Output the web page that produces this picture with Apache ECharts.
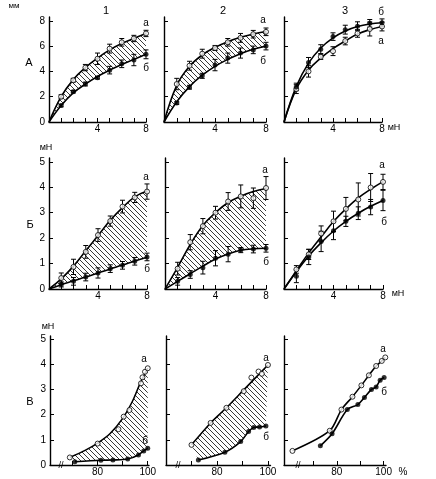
<!DOCTYPE html>
<html>
<head>
<meta charset="utf-8">
<script src="https://cdn.jsdelivr.net/npm/echarts@6/dist/echarts.min.js"></script>
<style>
html, body { margin: 0; padding: 0; background: #fff; }
#chart { width: 436px; height: 479px; }
</style>
</head>
<body>
<div id="chart"></div>
<script>
// x positions of the measured points (rows А and Б), and of the fitted curves
var X8 = [1, 2, 3, 4, 5, 6, 7, 8];
var CX = [0, 1, 2, 3, 4, 5, 6, 7, 8];

// row А, mm
var A1_a = [2.0, 3.3, 4.3, 5.0, 5.8, 6.3, 6.6, 7.0];
var A1_aErr = [0.15, 0.15, 0.25, 0.45, 0.35, 0.3, 0.25, 0.25];
var A1_b = [1.3, 2.4, 3.0, 3.5, 4.1, 4.6, 4.9, 5.35];
var A1_bErr = [0.1, 0.1, 0.15, 0.1, 0.3, 0.3, 0.45, 0.35];
var A1_aFit = [0, 2.0, 3.35, 4.3, 5.05, 5.7, 6.2, 6.6, 7.0];
var A1_bFit = [0, 1.3, 2.3, 3.0, 3.6, 4.1, 4.55, 4.95, 5.35];

var A2_a = [3.0, 4.45, 5.4, 5.85, 6.3, 6.65, 6.94, 7.13];
var A2_aErr = [0.45, 0.35, 0.35, 0.2, 0.3, 0.35, 0.3, 0.3];
var A2_b = [1.5, 2.75, 3.65, 4.5, 5.05, 5.45, 5.7, 6.0];
var A2_bErr = [0.1, 0.15, 0.2, 0.45, 0.4, 0.4, 0.3, 0.3];
var A2_aFit = [0, 2.9, 4.4, 5.3, 5.9, 6.35, 6.7, 6.95, 7.15];
var A2_bFit = [0, 1.6, 2.8, 3.7, 4.4, 4.95, 5.4, 5.75, 6.0];

var A3_a = [2.6, 4.0, 5.15, 5.6, 6.4, 7.0, 7.35, 7.55];
var A3_aErr = [0.35, 0.45, 0.2, 0.35, 0.3, 0.3, 0.55, 0.35];
var A3_b = [2.77, 4.7, 5.76, 6.75, 7.3, 7.57, 7.8, 7.85];
var A3_bErr = [0.3, 0.4, 0.35, 0.3, 0.35, 0.35, 0.3, 0.3];
var A3_aFit = [0, 2.6, 4.1, 5.05, 5.8, 6.4, 6.95, 7.3, 7.55];
var A3_bFit = [0, 2.8, 4.65, 5.85, 6.65, 7.2, 7.55, 7.75, 7.85];

// row Б, mN
var B1_a = [0.43, 0.87, 1.46, 2.12, 2.67, 3.24, 3.6, 3.83];
var B1_aErr = [0.2, 0.3, 0.25, 0.25, 0.2, 0.25, 0.2, 0.3];
var B1_b = [0.18, 0.3, 0.47, 0.63, 0.8, 0.93, 1.09, 1.26];
var B1_bErr = [0.1, 0.15, 0.15, 0.2, 0.15, 0.15, 0.15, 0.15];
var B1_aFit = [0, 0.4, 0.9, 1.5, 2.1, 2.7, 3.2, 3.62, 3.85];
var B1_bFit = [0, 0.17, 0.32, 0.47, 0.63, 0.79, 0.94, 1.1, 1.25];

var B2_a = [0.8, 1.84, 2.47, 3.0, 3.44, 3.64, 3.57, 3.97];
var B2_aErr = [0.25, 0.3, 0.3, 0.25, 0.35, 0.45, 0.4, 0.45];
var B2_b = [0.3, 0.57, 0.84, 1.21, 1.37, 1.53, 1.57, 1.6];
var B2_bErr = [0.15, 0.15, 0.25, 0.3, 0.3, 0.1, 0.15, 0.15];
var B2_aFit = [0, 0.85, 1.75, 2.5, 3.0, 3.4, 3.65, 3.83, 3.95];
var B2_bFit = [0, 0.3, 0.6, 0.9, 1.18, 1.38, 1.52, 1.58, 1.6];

var B3_a = [0.77, 1.36, 2.18, 2.66, 3.15, 3.52, 3.99, 4.21];
var B3_aErr = [0.15, 0.2, 0.3, 0.4, 0.45, 0.65, 0.55, 0.3];
var B3_b = [0.5, 1.26, 1.87, 2.29, 2.66, 2.98, 3.22, 3.48];
var B3_bErr = [0.25, 0.3, 0.4, 0.35, 0.2, 0.25, 0.3, 0.4];
var B3_aFit = [0, 0.72, 1.42, 2.05, 2.65, 3.15, 3.58, 3.92, 4.22];
var B3_bFit = [0, 0.68, 1.3, 1.82, 2.28, 2.66, 2.98, 3.25, 3.48];

// row В, mN against %
var V1_aX = [68.9, 80, 88.3, 90.4, 92.7, 97.3, 97.9, 98.9, 100];
var V1_aY = [0.3, 0.85, 1.42, 1.92, 2.18, 3.24, 3.48, 3.7, 3.84];
var V1_aFitX = [68.9, 75, 80, 85, 90, 94, 97, 100];
var V1_aFitY = [0.3, 0.58, 0.87, 1.25, 1.85, 2.55, 3.25, 3.85];
var V1_bX = [70.9, 81.3, 86.1, 92, 96.3, 98.4, 100];
var V1_bY = [0.13, 0.19, 0.2, 0.24, 0.4, 0.56, 0.66];

var V2_aX = [70, 77.5, 83.7, 90.5, 93.5, 96.3, 97.6, 100];
var V2_aY = [0.8, 1.67, 2.27, 2.93, 3.47, 3.71, 3.62, 3.97];
var V2_aFitX = [70, 77.5, 83.7, 90.5, 100];
var V2_aFitY = [0.8, 1.67, 2.27, 2.98, 3.97];
var V2_bX = [72.7, 83.1, 89.3, 92.4, 94.4, 96.7, 99.2];
var V2_bY = [0.2, 0.51, 0.93, 1.33, 1.49, 1.51, 1.55];

var V3_aX = [61.1, 77.0, 82.0, 86.7, 90.5, 93.7, 96.8, 99.2, 100.7];
var V3_aY = [0.56, 1.36, 2.2, 2.71, 3.16, 3.56, 3.93, 4.13, 4.27];
var V3_bX = [73, 78, 84.5, 89, 91.8, 94.8, 96.8, 98.5, 100.2];
var V3_bY = [0.76, 1.24, 2.2, 2.4, 2.68, 3.0, 3.1, 3.36, 3.47];

// tick and label values
var xTicksF = [1, 2, 3, 4, 5, 6, 7, 8];
var xLabelsF = [4, 8];
var xTicksP = [70, 80, 90, 100];
var xLabelsP = [80, 100];
var yTicksA = [2, 4, 6, 8];
var yLabelsA = [0, 2, 4, 6, 8];
var yTicks5 = [1, 2, 3, 4, 5];
var yLabels5 = [0, 1, 2, 3, 4, 5];

var FONT = '"Liberation Sans", Arial, sans-serif';

function pairs(xs, ys) {
    return xs.map(function (x, i) { return [x, ys[i]]; });
}
function triples(xs, ys, es) {
    return xs.map(function (x, i) { return [x, ys[i], es[i]]; });
}

// diagonal hatch used between the curves
var hatchCanvas = (function () {
    var s = 5;
    var c = document.createElement('canvas');
    c.width = s; c.height = s;
    var ctx = c.getContext('2d');
    ctx.strokeStyle = '#222';
    ctx.lineWidth = 0.9;
    ctx.beginPath();
    [-s, 0, s].forEach(function (o) {
        ctx.moveTo(o, 0);
        ctx.lineTo(o + s, s);
    });
    ctx.stroke();
    return c;
})();
var hatchFill = { image: hatchCanvas, repeat: 'repeat' };

function errBar(params, api) {
    var x = api.value(0), y = api.value(1), e = api.value(2);
    var hi = api.coord([x, y + e]);
    var lo = api.coord([x, y - e]);
    var w = 2.5;
    var st = { stroke: '#000', lineWidth: 1 };
    return {
        type: 'group',
        children: [
            { type: 'line', shape: { x1: hi[0], y1: hi[1], x2: lo[0], y2: lo[1] }, style: st },
            { type: 'line', shape: { x1: hi[0] - w, y1: hi[1], x2: hi[0] + w, y2: hi[1] }, style: st },
            { type: 'line', shape: { x1: lo[0] - w, y1: lo[1], x2: lo[0] + w, y2: lo[1] }, style: st }
        ]
    };
}

// hatched band between curve а and curve б (row В, where x values differ)
function bandItem(aPts, bPts) {
    return function (params, api) {
        var pts = aPts.concat(bPts.slice().reverse()).map(function (p) {
            return api.coord(p);
        });
        return { type: 'polygon', shape: { points: pts }, style: { fill: hatchFill, stroke: null } };
    };
}

var grids = [], xAxes = [], yAxes = [], series = [];

function addPanel(p) {
    var i = grids.length;
    grids.push({ left: p.left, top: p.top, width: p.width, height: p.height, outerBoundsMode: 'none' });
    xAxes.push({
        gridIndex: i, type: 'value', min: p.xMin, max: p.xMax, z: 3,
        axisLine: { onZero: false, lineStyle: { color: '#000', width: 1.4 } },
        axisTick: { inside: true, length: 4, customValues: p.xTicks, lineStyle: { color: '#000', width: 1 } },
        axisLabel: { customValues: p.xLabels, margin: 2, color: '#000', fontSize: 10, fontFamily: FONT },
        splitLine: { show: false }
    });
    yAxes.push({
        gridIndex: i, type: 'value', min: 0, max: p.yMax, z: 3,
        axisLine: { onZero: false, lineStyle: { color: '#000', width: 1.4 } },
        axisTick: { inside: true, length: 4, customValues: p.yTicks, lineStyle: { color: '#000', width: 1 } },
        axisLabel: {
            show: !!p.yLabels, customValues: p.yLabels || [], margin: 4,
            color: '#000', fontSize: 10, fontFamily: FONT
        },
        splitLine: { show: false }
    });

    var lineBase = {
        type: 'line', xAxisIndex: i, yAxisIndex: i, showSymbol: false, silent: true,
        smooth: p.smooth, itemStyle: { color: '#000' },
        lineStyle: { color: '#000', width: 1.6 }, z: 2
    };
    var aLine = Object.assign({}, lineBase, { data: p.aFit });
    var bLine = Object.assign({}, lineBase, { data: p.bFit });
    if (p.hatch === 'area') {
        aLine.areaStyle = { color: hatchFill, opacity: 1 };
        bLine.areaStyle = { color: '#fff', opacity: 1 };
    } else if (p.hatch === 'band') {
        series.push({
            type: 'custom', xAxisIndex: i, yAxisIndex: i, silent: true, z: 1,
            renderItem: bandItem(p.aFit, p.bFit), data: [p.aFit[0]]
        });
    }
    series.push(aLine, bLine);

    if (p.aErr) {
        series.push({
            type: 'custom', xAxisIndex: i, yAxisIndex: i, renderItem: errBar,
            encode: { x: 0, y: 1 }, data: p.aErr, z: 4, silent: true
        });
        series.push({
            type: 'custom', xAxisIndex: i, yAxisIndex: i, renderItem: errBar,
            encode: { x: 0, y: 1 }, data: p.bErr, z: 4, silent: true
        });
    }
    series.push({
        type: 'scatter', xAxisIndex: i, yAxisIndex: i, data: p.aPts, symbol: 'circle',
        symbolSize: 5, z: 5, silent: true,
        itemStyle: { color: '#fff', borderColor: '#000', borderWidth: 1 }
    });
    series.push({
        type: 'scatter', xAxisIndex: i, yAxisIndex: i, data: p.bPts, symbol: 'circle',
        symbolSize: 5, z: 5, silent: true, itemStyle: { color: '#000' }
    });
}

var rowA = { top: 17, height: 105, yMax: 8.3, yTicks: yTicksA, xMin: 0, xMax: 8, xTicks: xTicksF, xLabels: xLabelsF, smooth: 0.4 };
var rowB = { top: 158, height: 131, yMax: 5.15, yTicks: yTicks5, xMin: 0, xMax: 8, xTicks: xTicksF, xLabels: xLabelsF, smooth: 0.4 };
var rowV = { top: 336, height: 129, yMax: 5.12, yTicks: yTicks5, xMax: 101, xTicks: xTicksP, xLabels: xLabelsP, smooth: 0.3 };

function fPanel(row, extra, a, aErr, b, bErr, aFit, bFit) {
    addPanel(Object.assign({}, row, extra, {
        aPts: pairs(X8, a), bPts: pairs(X8, b),
        aErr: triples(X8, a, aErr), bErr: triples(X8, b, bErr),
        aFit: pairs(CX, aFit), bFit: pairs(CX, bFit)
    }));
}

fPanel(rowA, { left: 49, width: 97, yLabels: yLabelsA, hatch: 'area' }, A1_a, A1_aErr, A1_b, A1_bErr, A1_aFit, A1_bFit);
fPanel(rowA, { left: 164, width: 102, hatch: 'area' }, A2_a, A2_aErr, A2_b, A2_bErr, A2_aFit, A2_bFit);
fPanel(rowA, { left: 284, width: 98 }, A3_a, A3_aErr, A3_b, A3_bErr, A3_aFit, A3_bFit);
fPanel(rowB, { left: 49, width: 98, yLabels: yLabels5, hatch: 'area' }, B1_a, B1_aErr, B1_b, B1_bErr, B1_aFit, B1_bFit);
fPanel(rowB, { left: 165, width: 101, hatch: 'area' }, B2_a, B2_aErr, B2_b, B2_bErr, B2_aFit, B2_bFit);
fPanel(rowB, { left: 284, width: 99 }, B3_a, B3_aErr, B3_b, B3_bErr, B3_aFit, B3_bFit);

addPanel(Object.assign({}, rowV, {
    left: 50, width: 99, xMin: 61, xMax: 100.5, yLabels: yLabels5, hatch: 'band',
    aPts: pairs(V1_aX, V1_aY), bPts: pairs(V1_bX, V1_bY),
    aFit: pairs(V1_aFitX, V1_aFitY), bFit: pairs(V1_bX, V1_bY)
}));
addPanel(Object.assign({}, rowV, {
    left: 166, width: 104.5, xMin: 60, hatch: 'band',
    aPts: pairs(V2_aX, V2_aY), bPts: pairs(V2_bX, V2_bY),
    aFit: pairs(V2_aFitX, V2_aFitY), bFit: pairs(V2_bX, V2_bY)
}));
addPanel(Object.assign({}, rowV, {
    left: 284, width: 102, xMin: 57.5,
    aPts: pairs(V3_aX, V3_aY), bPts: pairs(V3_bX, V3_bY),
    aFit: pairs(V3_aX, V3_aY), bFit: pairs(V3_bX, V3_bY)
}));

// text labels: [text, x, y, size]
var texts = [
    ['1', 106, 11, 11], ['2', 223, 11, 11], ['3', 345, 11, 11],
    ['мм', 14, 6, 8], ['мН', 46, 148, 9], ['мН', 48, 327, 9],
    ['А', 29, 63, 11], ['Б', 30, 225, 11], ['В', 30, 402, 11],
    ['мН', 394, 128, 9], ['мН', 398, 294, 9], ['%', 403, 472, 10],
    ['а', 146, 23, 10], ['б', 146, 68, 10],
    ['а', 263, 20, 10], ['б', 263, 61, 10],
    ['б', 381, 12, 10], ['а', 381, 41, 10],
    ['а', 146, 177, 10], ['б', 147, 269, 10],
    ['а', 265, 170, 10], ['б', 266, 262, 10],
    ['а', 382, 165, 10], ['б', 384, 222, 10],
    ['а', 144, 359, 10], ['б', 145, 441, 10],
    ['а', 266, 358, 10], ['б', 266, 437, 10],
    ['а', 383, 349, 10], ['б', 384, 392, 10],
    ['//', 61, 466, 9], ['//', 178, 466, 9], ['//', 298, 466, 9]
];

var graphics = texts.map(function (t) {
    return {
        type: 'text', x: t[1], y: t[2], z: 10,
        style: {
            text: t[0], fill: '#000', font: t[3] + 'px ' + FONT,
            textAlign: 'center', textVerticalAlign: 'middle'
        }
    };
});

var myChart = echarts.init(document.getElementById('chart'));
myChart.setOption({
    animation: false,
    grid: grids,
    xAxis: xAxes,
    yAxis: yAxes,
    series: series,
    graphic: graphics
});
</script>
</body>
</html>
